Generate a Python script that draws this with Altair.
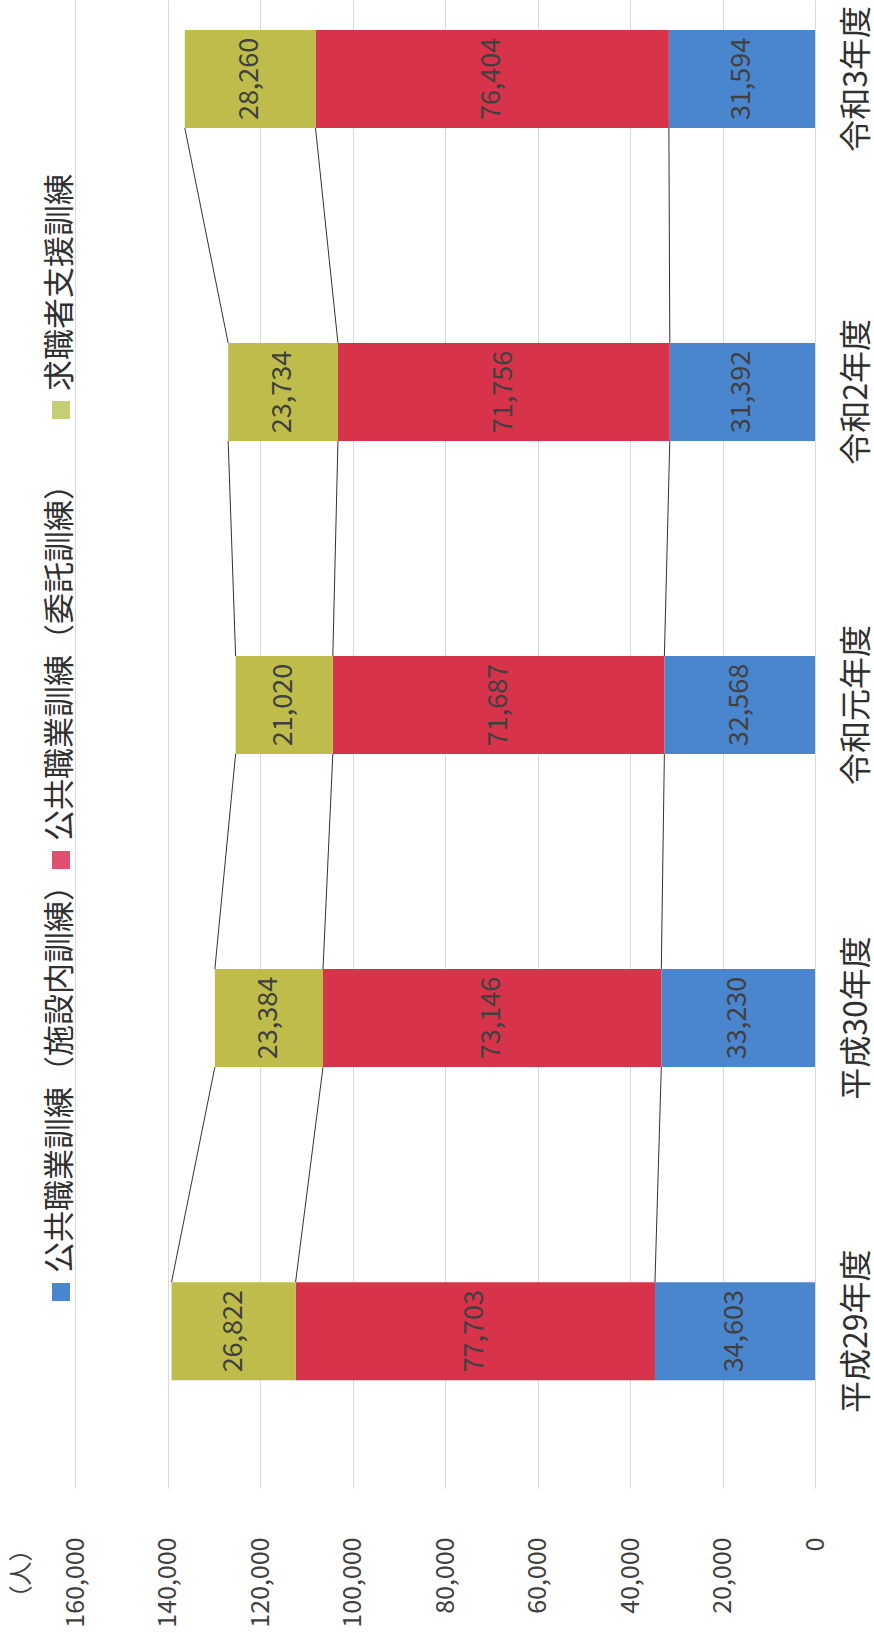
import altair as alt
import pandas as pd

# ---- data ----
years = ["平成29年度", "平成30年度", "令和元年度", "令和2年度", "令和3年度"]
series = ["公共職業訓練（施設内訓練）", "公共職業訓練（委託訓練）", "求職者支援訓練"]
shisetsu = [34603, 33230, 32568, 31392, 31594]
itaku = [77703, 73146, 71687, 71756, 76404]
kyushoku = [26822, 23384, 21020, 23734, 28260]
x_ticks = [0, 20000, 40000, 60000, 80000, 100000, 120000, 140000, 160000]
unit_label = "（人）"

colors = ["#4A86CE", "#D7344C", "#BEBD4B"]
legend_colors = ["#4A86CE", "#E0506E", "#C5CE72"]
FONT = "Noto Sans CJK JP"
TXT = "#404040"

values_by_series = [shisetsu, itaku, kyushoku]
rows = []
for i, y in enumerate(years):
    for j, s in enumerate(series):
        rows.append({"year": y, "series": s, "order": j, "value": values_by_series[j][i]})
df = pd.DataFrame(rows)

conn = []
for i in range(len(years) - 1):
    a = [shisetsu[i], shisetsu[i] + itaku[i], shisetsu[i] + itaku[i] + kyushoku[i]]
    b = [shisetsu[i + 1], shisetsu[i + 1] + itaku[i + 1],
         shisetsu[i + 1] + itaku[i + 1] + kyushoku[i + 1]]
    for k in range(3):
        conn.append({"from": years[i], "to": years[i + 1], "v_from": a[k], "v_to": b[k]})
conn_df = pd.DataFrame(conn)

y_scale = alt.Scale(domain=years[::-1], paddingInner=0.687, paddingOuter=0.22, align=0.217)
x_scale = alt.Scale(domain=[0, 160000], reverse=True, nice=False)

x_axis = alt.Axis(
    values=x_ticks, labelExpr="format(datum.value, ',')", labelAngle=270,
    labelAlign="right", labelBaseline="middle",
    labelPadding=49, ticks=False, domain=False, grid=True, gridColor="#d9d9d9",
    labelFontSize=25, labelColor=TXT, labelFont=FONT, labelLimit=400,
    title=unit_label, titleAngle=270, titleAlign="right", titleBaseline="middle",
    titleX=-54, titleY=49, titleFontSize=24, titleFontWeight="normal", titleColor=TXT,
    titleFont=FONT,
)
y_axis = alt.Axis(
    orient="right", labelAngle=270, labelAlign="center", labelBaseline="top",
    labelPadding=26, ticks=False, domain=False, grid=False, labelFontSize=32,
    labelColor="#303030", labelFont=FONT, labelLimit=400, title=None,
)

stacked = alt.Chart(df).transform_stack(
    stack="value", groupby=["year"], as_=["v0", "v1"], sort=[alt.SortField("order")]
)

bars = stacked.mark_bar().encode(
    x=alt.X("v0:Q", scale=x_scale, axis=x_axis),
    x2="v1:Q",
    y=alt.Y("year:N", scale=y_scale, axis=y_axis),
    color=alt.Color("series:N", scale=alt.Scale(domain=series, range=colors), legend=None),
)

labels = stacked.transform_calculate(mid="(datum.v0 + datum.v1) / 2").mark_text(
    angle=270, align="center", baseline="middle", fontSize=27, font=FONT, color=TXT
).encode(
    x=alt.X("mid:Q", scale=x_scale, axis=x_axis),
    y=alt.Y("year:N", scale=y_scale, axis=y_axis),
    text=alt.Text("value:Q", format=","),
)

rules = alt.Chart(conn_df).mark_rule(color="#333333", strokeWidth=1).encode(
    x=alt.X("v_from:Q", scale=x_scale, axis=x_axis),
    x2="v_to:Q",
    y=alt.Y("from:N", scale=y_scale, bandPosition=0, axis=y_axis),
    y2=alt.Y2("to:N", bandPosition=1),
)

# ---- legend (rotated, drawn left of the plot) ----
legend_square_y = [1292, 860, 410]
legend_text_y = [1273, 841, 391]
legend_layers = []
for j, s in enumerate(series):
    ldf = pd.DataFrame({"label": [s]})
    legend_layers.append(
        alt.Chart(ldf).mark_square(size=324, color=legend_colors[j], opacity=1).encode(
            x=alt.value(-14), y=alt.value(legend_square_y[j])
        )
    )
    legend_layers.append(
        alt.Chart(ldf).mark_text(
            angle=270, align="left", baseline="middle", fontSize=31, font=FONT, color="#303030"
        ).encode(x=alt.value(-14), y=alt.value(legend_text_y[j]), text="label:N")
    )

chart = alt.layer(bars, rules, labels, *legend_layers).properties(
    width=740, height=1488,
    autosize=alt.AutoSizeParams(type="none"),
    padding={"left": 75, "top": 0, "right": 59, "bottom": 145},
    background="white",
).configure_view(stroke=None)

chart.save("out.html", embed_options={"renderer": "svg", "actions": False})
